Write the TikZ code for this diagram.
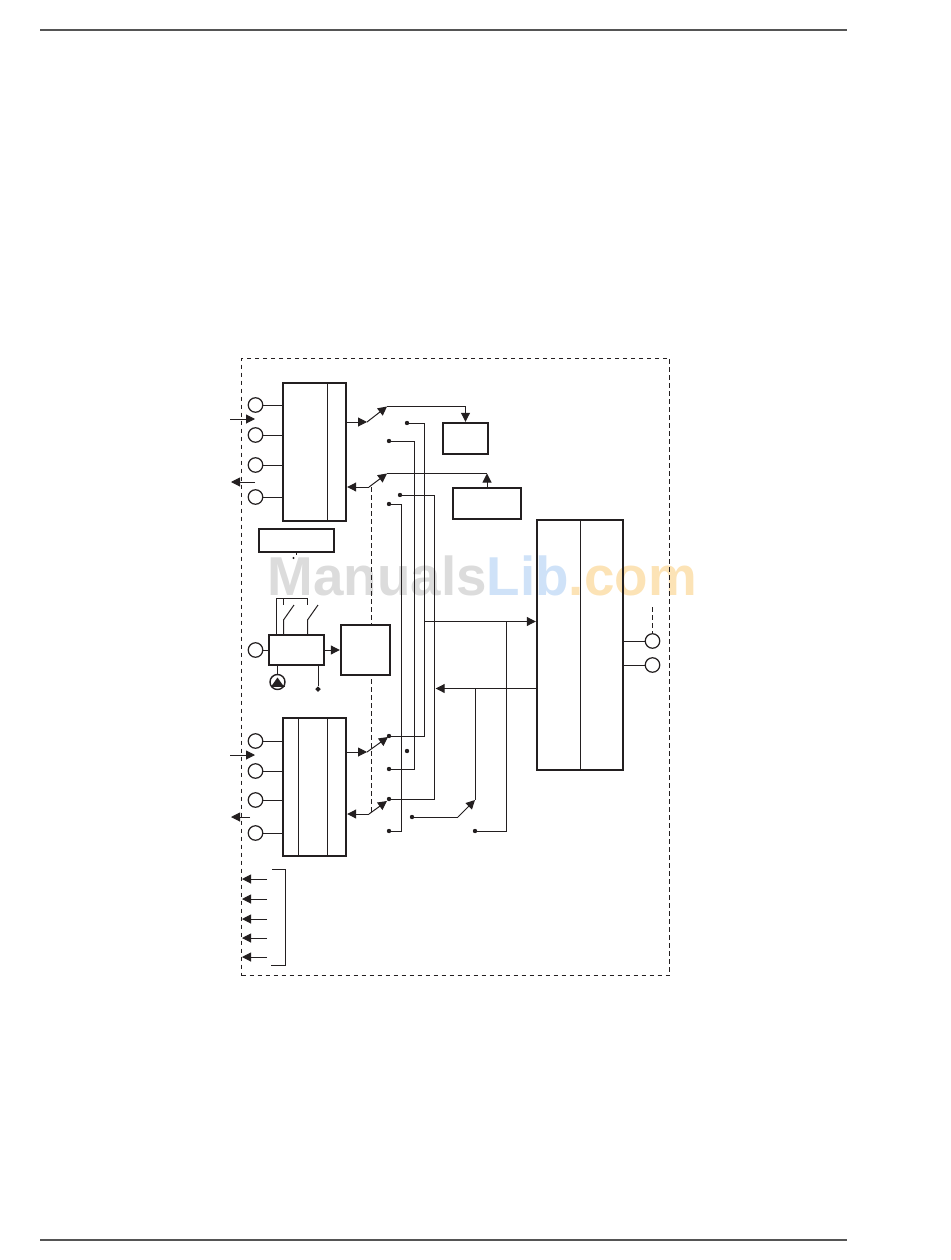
\documentclass[tikz,border=0pt]{standalone}
\usepackage{fontspec}
\setmainfont{Liberation Sans}
\usetikzlibrary{arrows.meta,calc,shapes.geometric}
\definecolor{ink}{HTML}{231F20}
\definecolor{rulegray}{HTML}{555555}
\definecolor{wmgray}{HTML}{DCDCDC}
\definecolor{wmblue}{HTML}{CFE2F8}
\definecolor{wmorange}{HTML}{FCE3B6}
\tikzset{
  box/.style={draw=ink,line width=2pt,rectangle,inner sep=0pt,outer sep=0pt},
  divider/.style={draw=ink,line width=1pt},
  port/.style={draw=ink,line width=1.2pt,circle,fill=white,minimum size=14.5pt,inner sep=0pt,outer sep=0pt},
  dot/.style={fill=ink,draw=none,circle,minimum size=4.4pt,inner sep=0pt,outer sep=0pt},
  wire/.style={draw=ink,line width=1pt},
  sig/.style={draw=ink,line width=1pt,-{Triangle[length=9pt,width=9pt]}},
  sigbox/.style={sig,shorten >=1.2pt},
  dashline/.style={draw=ink,line width=1pt,dash pattern=on 4.5pt off 3.5pt},
  wm/.style={inner sep=0pt,outer sep=0pt,font=\fontsize{54.8}{54.8}\selectfont\bfseries,anchor=base west}
}
\begin{document}
\begin{tikzpicture}[x=1pt,y=-1pt]
\useasboundingbox (0,0) rectangle (950,1260);
% page rules
\coordinate (rt1) at (40,30); \coordinate (rt2) at (847,30);
\coordinate (rb1) at (40,1240); \coordinate (rb2) at (847,1240);
\draw[line width=2pt,draw=rulegray] (rt1) -- (rt2);
\draw[line width=2pt,draw=rulegray] (rb1) -- (rb2);
% watermark
\node[wm,text=wmgray] (wm1) at (267.5,595) {Manuals};
\node[wm,text=wmblue] (wm2) at (wm1.base east) {Lib};
\node[wm,text=wmorange] (wm3) at (wm2.base east) {.com};
% frame
\node[draw=ink,line width=1pt,dash pattern=on 4.5pt off 3.5pt,rectangle,inner sep=0pt,outer sep=0pt,minimum width=428pt,minimum height=617.5pt] (frame) at (455.5,666.75) {};
% switch pivots
\coordinate (s1) at (367,422); \coordinate (s1e) at (387,406.5);
\coordinate (s2) at (369,487); \coordinate (s2e) at (387,473.5);
\coordinate (s3) at (367,752); \coordinate (s3e) at (388,737);
\coordinate (s4) at (369,814); \coordinate (s4e) at (387,801);
\coordinate (d2) at (371,487); \coordinate (d4) at (371,813);
\draw[dashline] (d2) -- (d4);
% boxes
\node[box,minimum width=63pt,minimum height=138.5pt] (A) at (314.5,452) {};
\node[box,minimum width=63pt,minimum height=138.5pt] (B) at (314.5,787) {};
\node[box,minimum width=45pt,minimum height=31pt] (C) at (465.5,438.5) {};
\node[box,minimum width=68pt,minimum height=31pt] (D) at (487,503.5) {};
\node[box,minimum width=75.5pt,minimum height=23pt] (E) at (296.5,540.5) {};
\node[box,minimum width=55pt,minimum height=30pt] (F) at (296.5,650) {};
\node[box,fill=white,minimum width=49pt,minimum height=50pt] (G) at (365.5,650) {};
\node[box,minimum width=86pt,minimum height=250pt] (H) at (580,645) {};
\draw[divider] (327.5,0 |- A.north) -- (327.5,0 |- A.south);
\draw[divider] (327.5,0 |- B.north) -- (327.5,0 |- B.south);
\draw[divider] (298.5,0 |- B.north) -- (298.5,0 |- B.south);
\draw[divider] (H.north) -- (H.south);
% ports A
\node[port] (a1) at (255.5,405) {};
\node[port] (a2) at (255.5,435) {};
\node[port] (a3) at (255.5,465) {};
\node[port] (a4) at (255.5,497) {};
\foreach \p in {a1,a2,a3,a4} \draw[wire] (\p) -- (\p -| A.west);
% ports B
\node[port] (b1) at (255.5,741) {};
\node[port] (b2) at (255.5,771) {};
\node[port] (b3) at (255.5,800) {};
\node[port] (b4) at (255.5,833) {};
\foreach \p in {b1,b2,b3,b4} \draw[wire] (\p) -- (\p -| B.west);
% ports H
\node[port] (h1) at (652.5,641) {};
\node[port] (h2) at (652.5,665) {};
\foreach \p in {h1,h2} \draw[wire] (\p) -- (\p -| H.east);
\coordinate (hd) at (652.5,607);
\draw[dashline] (hd) -- (h1);
% port F
\node[port] (f1) at (255.5,650) {};
\draw[wire] (f1) -- (F.west);
% external arrows
\coordinate (ia1) at (230,419); \coordinate (ia2) at (255,419);
\coordinate (oa1) at (255,482); \coordinate (oa2) at (231,482);
\coordinate (ib1) at (230,755); \coordinate (ib2) at (255,755);
\coordinate (ob1) at (250,817); \coordinate (ob2) at (231,817);
\draw[sig] (ia1) -- (ia2);
\draw[sig] (oa1) -- (oa2);
\draw[sig] (ib1) -- (ib2);
\draw[sig] (ob1) -- (ob2);
% switches at A
\draw[sig] (s1 -| A.east) -- (s1);
\draw[sig] (s1) -- (s1e);
\draw[sigbox] (s1e) -| (C.north);
\draw[sigbox] (s2) -- (s2 -| A.east);
\draw[sig] (s2) -- (s2e);
\coordinate (dt) at (D.north |- s2e);
\draw[wire] (s2e) -- (dt);
\draw[sig] (D.north) -- (dt);
% switches at B
\draw[sig] (s3 -| B.east) -- (s3);
\draw[sig] (s3) -- (s3e);
\draw[sigbox] (s4) -- (s4 -| B.east);
\draw[sig] (s4) -- (s4e);
% contact dots
\node[dot] (t1) at (407,423) {};
\node[dot] (t2) at (389,441) {};
\node[dot] (t3) at (400,495) {};
\node[dot] (t4) at (389,504) {};
\node[dot] (u1) at (389,736) {};
\node[dot] (u0) at (407,751) {};
\node[dot] (u2) at (389,769) {};
\node[dot] (u3) at (389,799) {};
\node[dot] (u4) at (389,831) {};
\coordinate (v1) at (424.5,423); \coordinate (v2) at (414,441);
\coordinate (v3) at (434.5,495); \coordinate (v4) at (401.5,504);
\draw[wire] (t1) -- (v1) -- (v1 |- u1) -- (u1);
\draw[wire] (t2) -- (v2) -- (v2 |- u2) -- (u2);
\draw[wire] (t3) -- (v3) -- (v3 |- u3) -- (u3);
\draw[wire] (t4) -- (v4) -- (v4 |- u4) -- (u4);
% buses to H
\coordinate (w1) at (v1 |- 0,621.5);
\coordinate (w2) at (v3 |- 0,688.5);
\draw[sigbox] (w1) -- (w1 -| H.west);
\draw[sigbox] (w2 -| H.west) -- (w2);
% lower switch
\node[dot] (l1) at (412,817) {};
\node[dot] (l2) at (475,831) {};
\coordinate (lp) at (458,817);
\coordinate (le) at (475,800);
\coordinate (lv) at (506.5,831);
\draw[wire] (l1) -- (lp);
\draw[sig] (lp) -- (le);
\draw[wire] (le) -- (le |- w2);
\draw[wire] (l2) -- (lv) -- (lv |- w1);
% power / contact block F
\coordinate (k0) at (276,598);
\coordinate (k1) at (283.5,598);
\coordinate (k2) at (307.5,598);
\coordinate (k1a) at (283.5,605);
\coordinate (k2a) at (307.5,605);
\coordinate (k1b) at (283.5,620);
\coordinate (k2b) at (307.5,620);
\coordinate (k1c) at (294,605);
\coordinate (k2c) at (318,605);
\draw[wire] (k0 |- F.north) -- (k0) -- (k2) -- (k2a);
\draw[wire] (k1) -- (k1a);
\draw[wire] (k1b |- F.north) -- (k1b) -- (k1c);
\draw[wire] (k2b |- F.north) -- (k2b) -- (k2c);
\draw[sigbox] (F.east) -- (G.west);
\node[draw=ink,line width=1.4pt,circle,minimum size=15pt,inner sep=0pt,outer sep=0pt] (L) at (277.5,682) {};
\draw[wire] (L.north |- F.south) -- (L.north);
\draw[draw=none,fill=ink] (271.5,686) -- (283.5,686) -- (277.5,677.5) -- cycle;
\coordinate (lb1) at (270.5,686); \coordinate (lb2) at (284.5,686);
\draw[wire] (lb1) -- (lb2);
\node[draw=none,diamond,fill=ink,minimum size=5.5pt,inner sep=0pt,outer sep=0pt] (q) at (318,689) {};
\draw[wire] (q |- F.south) -- (q.north);
% tick and speck under E
\coordinate (e1) at (296,552); \coordinate (e2) at (296,555);
\draw[wire] (e1) -- (e2);
\node[dot,minimum size=2.4pt] (e3) at (293.5,558) {};
% bottom arrows
\coordinate (m1) at (285,869);
\coordinate (m2) at (285,965);
\coordinate (m1a) at (272,869);
\coordinate (m2a) at (271,965);
\draw[wire] (m1a) -- (m1) -- (m2) -- (m2a);
\foreach \y/\n in {879/p1,899/p2,919/p3,938/p4,957/p5}{
  \coordinate (\n a) at (267,\y); \coordinate (\n b) at (242,\y);
  \draw[sig] (\n a) -- (\n b);
}
\end{tikzpicture}
\end{document}
